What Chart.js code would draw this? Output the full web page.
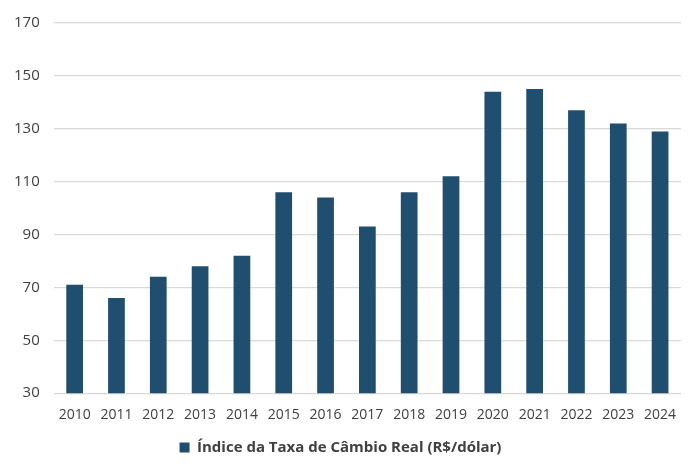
<!DOCTYPE html>
<html>
<head>
<meta charset="utf-8">
<script src="https://cdn.jsdelivr.net/npm/chart.js@4"></script>
<style>
  html, body { margin: 0; padding: 0; background: #fff; }
  #wrap { width: 700px; height: 473px; }
</style>
</head>
<body>
<div id="wrap"><canvas id="chart"></canvas></div>
<script>
// data
const anos = ['2010', '2011', '2012', '2013', '2014', '2015', '2016', '2017', '2018', '2019', '2020', '2021', '2022', '2023', '2024'];
const indice = [71, 66, 74, 78, 82, 106, 104, 93, 106, 112, 144, 145, 137, 132, 129];
const serieNome = 'Índice da Taxa de Câmbio Real (R$/dólar)';
const yMin = 30, yMax = 170, yStep = 20;

const ctx = document.getElementById('chart');

new Chart(ctx, {
    type: 'bar',
    data: {
        labels: anos,
        datasets: [{
            label: serieNome,
            data: indice,
            backgroundColor: '#1f4e6f',
            borderWidth: 0,
            barPercentage: 0.5,
            categoryPercentage: 0.8
        }]
    },
    options: {
        responsive: true,
        maintainAspectRatio: false,
        animation: false,
        layout: { padding: { left: 0, right: 19, top: 0, bottom: 8 } },
        plugins: {
            tooltip: { enabled: false },
            legend: {
                position: 'bottom',
                labels: {
                    boxWidth: 10,
                    boxHeight: 10,
                    padding: 12,
                    color: '#404040',
                    font: { family: '"Open Sans"', size: 15, weight: 'bold' }
                }
            }
        },
        scales: {
            x: {
                grid: { display: false },
                border: { display: false },
                ticks: {
                    color: '#404040',
                    padding: 5,
                    maxRotation: 0,
                    font: { family: '"Open Sans"', size: 14 }
                }
            },
            y: {
                min: yMin,
                max: yMax,
                grid: { color: '#d9d9d9', lineWidth: 1.2, drawTicks: false },
                border: { display: false },
                ticks: {
                    stepSize: yStep,
                    color: '#404040',
                    padding: 14,
                    font: { family: '"Open Sans"', size: 15 }
                }
            }
        }
    }
});
</script>
</body>
</html>
